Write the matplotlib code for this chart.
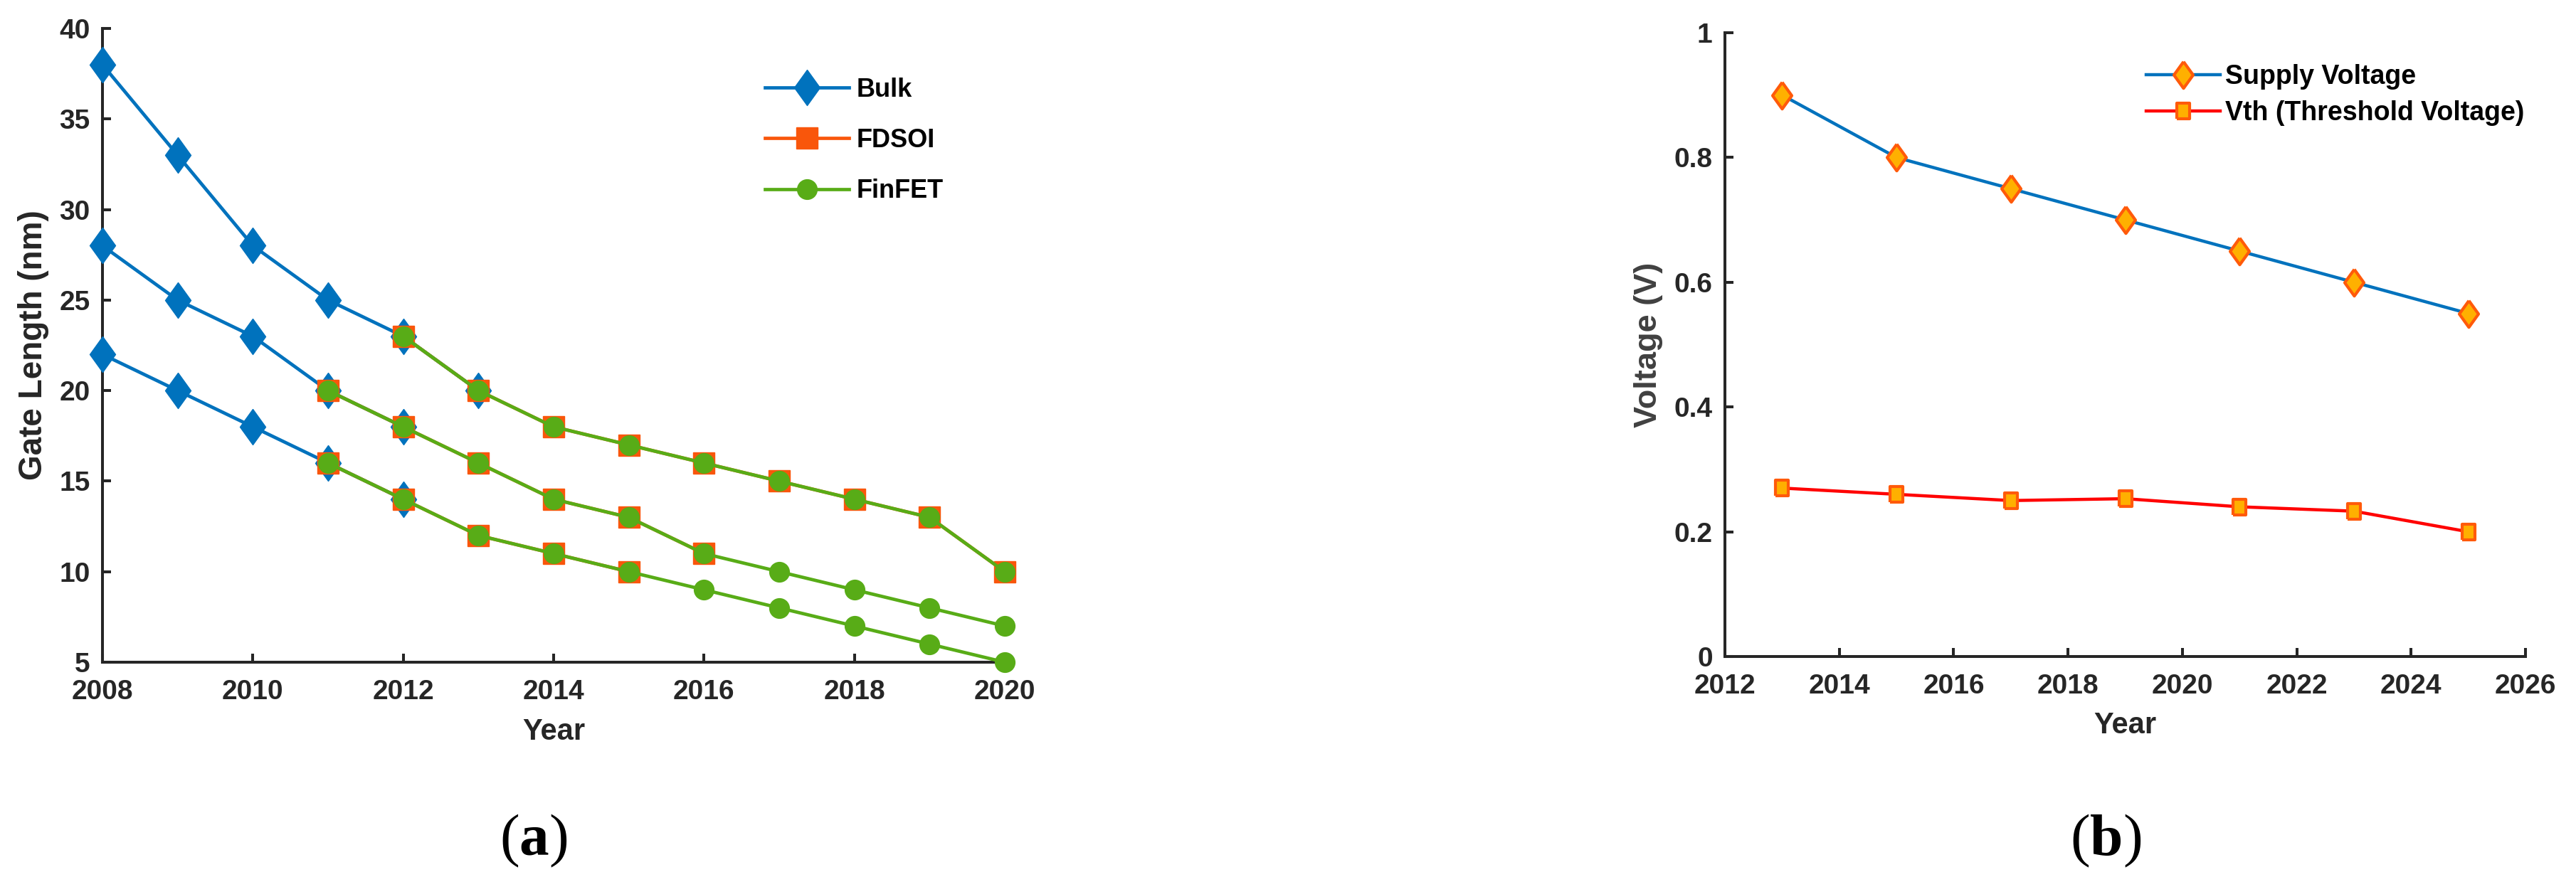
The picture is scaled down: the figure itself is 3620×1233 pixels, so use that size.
import matplotlib
matplotlib.use("Agg")
import matplotlib.pyplot as plt

# ---- data (a): gate length vs year ----
bulk_years = [[2008, 2009, 2010, 2011, 2012, 2013],
              [2008, 2009, 2010, 2011, 2012],
              [2008, 2009, 2010, 2011, 2012]]
bulk_len = [[38, 33, 28, 25, 23, 20],
            [28, 25, 23, 20, 18],
            [22, 20, 18, 16, 14]]

fdsoi_years = [[2012, 2013, 2014, 2015, 2016, 2017, 2018, 2019, 2020],
               [2011, 2012, 2013, 2014, 2015, 2016],
               [2011, 2012, 2013, 2014, 2015]]
fdsoi_len = [[23, 20, 18, 17, 16, 15, 14, 13, 10],
             [20, 18, 16, 14, 13, 11],
             [16, 14, 12, 11, 10]]

finfet_years = [[2012, 2013, 2014, 2015, 2016, 2017, 2018, 2019, 2020],
                [2011, 2012, 2013, 2014, 2015, 2016, 2017, 2018, 2019, 2020],
                [2011, 2012, 2013, 2014, 2015, 2016, 2017, 2018, 2019, 2020]]
finfet_len = [[23, 20, 18, 17, 16, 15, 14, 13, 10],
              [20, 18, 16, 14, 13, 11, 10, 9, 8, 7],
              [16, 14, 12, 11, 10, 9, 8, 7, 6, 5]]

# ---- data (b): voltage vs year ----
v_years = [2013, 2015, 2017, 2019, 2021, 2023, 2025]
supply_v = [0.9, 0.8, 0.75, 0.7, 0.65, 0.6, 0.55]
vth = [0.27, 0.26, 0.25, 0.253, 0.24, 0.233, 0.2]

BLUE = '#0072BD'
ORANGE = '#F9560B'
GREEN = '#58AC17'
RED = '#FF0000'
YEL = '#FFB000'
EDGE = '#FF5A0A'
DARK = '#262626'

SANS = ['Liberation Sans', 'DejaVu Sans']

plt.rcParams['font.family'] = SANS
plt.rcParams['mathtext.fontset'] = 'custom'
plt.rcParams['mathtext.rm'] = 'Liberation Serif'
plt.rcParams['mathtext.bf'] = 'Liberation Serif:bold'

diamond = [(0, 1), (0.72, 0), (0, -1), (-0.72, 0), (0, 1)]
rect = [(-0.85, -1), (0.85, -1), (0.85, 1), (-0.85, 1), (-0.85, -1)]

fig = plt.figure(figsize=(36.2, 12.33), dpi=100)
ax1 = fig.add_axes([144/3620, 1-931/1233, 1268/3620, 891/1233])
ax2 = fig.add_axes([2424/3620, 1-923/1233, 1125/3620, 877/1233])


def style_axes(ax):
    for s in ['top', 'right']:
        ax.spines[s].set_visible(False)
    for s in ['left', 'bottom']:
        ax.spines[s].set_linewidth(2.9)
        ax.spines[s].set_color(DARK)
    ax.tick_params(direction='in', length=8.6, width=2.9, color=DARK,
                   labelsize=28, labelcolor=DARK)
    ax.tick_params(axis='y', pad=12.5)
    ax.tick_params(axis='x', pad=17)
    for lab in ax.get_xticklabels() + ax.get_yticklabels():
        lab.set_fontweight('bold')


# (a)
for i in range(3):
    ax1.plot(bulk_years[i], bulk_len[i], color=BLUE, lw=3.4, marker=diamond,
             ms=36, mec=BLUE, mfc=BLUE, clip_on=False, zorder=3,
             label='Bulk' if i == 0 else None)
for i in range(3):
    ax1.plot(fdsoi_years[i], fdsoi_len[i], color=ORANGE, lw=3.4, marker='s',
             ms=21, mec=ORANGE, mfc=ORANGE, clip_on=False, zorder=3,
             label='FDSOI' if i == 0 else None)
for i in range(3):
    ax1.plot(finfet_years[i], finfet_len[i], color=GREEN, lw=3.4, marker='o',
             ms=20, mec=GREEN, mfc=GREEN, clip_on=False, zorder=3,
             label='FinFET' if i == 0 else None)

ax1.set_xlim(2008, 2020)
ax1.set_ylim(5, 40)
ax1.set_xticks(range(2008, 2021, 2))
ax1.set_yticks(range(5, 41, 5))
style_axes(ax1)
ax1.set_xlabel('Year', fontsize=30, fontweight='bold', color=DARK)
ax1.xaxis.set_label_coords(0.5, -0.0875)
ax1.set_ylabel('Gate Length (nm)', fontsize=33, fontweight='bold', color=DARK)
ax1.yaxis.set_label_coords(-0.059, 0.5)
ax1.legend(loc='upper left', bbox_to_anchor=(1075/3620, 1-109/1233),
           bbox_transform=fig.transFigure, frameon=False, borderpad=0,
           borderaxespad=0, handlelength=3.28, handletextpad=0.28,
           labelspacing=1.0, prop={'family': SANS, 'weight': 'bold', 'size': 26})

# (b)
ax2.plot(v_years, supply_v, color=BLUE, lw=3.2, marker=diamond, ms=27,
         mfc=YEL, mec=EDGE, mew=3, clip_on=False, zorder=3, label='Supply Voltage')
ax2.plot(v_years, vth, color=RED, lw=3.2, marker=rect, ms=16,
         mfc=YEL, mec=EDGE, mew=3, clip_on=False, zorder=3,
         label='Vth (Threshold Voltage)')
ax2.set_xlim(2012, 2026)
ax2.set_ylim(0, 1)
ax2.set_xticks(range(2012, 2027, 2))
ax2.set_yticks([0, 0.2, 0.4, 0.6, 0.8, 1])
ax2.set_yticklabels(['0', '0.2', '0.4', '0.6', '0.8', '1'])
style_axes(ax2)
ax2.set_xlabel('Year', fontsize=30, fontweight='bold', color=DARK)
ax2.xaxis.set_label_coords(0.5, -0.0878)
ax2.set_ylabel('Voltage (V)', fontsize=32.5, fontweight='bold', color='#404040')
ax2.yaxis.set_label_coords(-0.0773, 0.5)
ax2.legend(loc='upper left', bbox_to_anchor=(3016/3620, 1-90/1233),
           bbox_transform=fig.transFigure, frameon=False, borderpad=0,
           borderaxespad=0, handlelength=2.77, handletextpad=0.2,
           labelspacing=0.4, prop={'family': SANS, 'weight': 'bold', 'size': 27})

# captions
fig.text(750/3620, 1-1182/1233, r'($\mathbf{a}$)', ha='center', va='center',
         fontsize=60, family='Liberation Serif')
fig.text(2959/3620, 1-1182/1233, r'($\mathbf{b}$)', ha='center', va='center',
         fontsize=60, family='Liberation Serif')

fig.savefig('out.png', dpi=100)
